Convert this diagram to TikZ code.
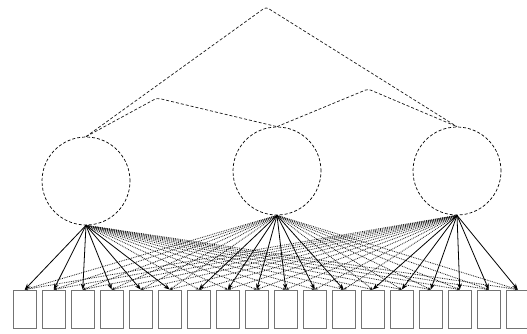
\documentclass[tikz,border=0pt]{standalone}
\usetikzlibrary{arrows.meta}
\begin{document}
\begin{tikzpicture}[x=1pt,y=-1pt,
  latent/.style={circle,draw=black,densely dashed,line width=0.7pt,minimum size=88pt,inner sep=0pt},
  indicator/.style={rectangle,draw=black!55,line width=0.9pt,minimum width=23.5pt,minimum height=38pt,inner sep=0pt,fill=white},
  loading/.style={draw=black,line width=0.8pt,-{Stealth[length=6pt,width=4.5pt]}},
  cross/.style={draw=black!90,densely dotted,line width=0.8pt,-{Stealth[length=3pt,width=2.5pt]}},
  corr/.style={draw=black!90,densely dashed,line width=0.7pt,rounded corners=3pt}]
\useasboundingbox (0,0) rectangle (527,334);
\node[latent] (f1) at (86,181) {};
\node[latent] (f2) at (277,171) {};
\node[latent] (f3) at (457,171) {};
\coordinate (apex) at (266,7);
\coordinate (bendA) at (157,98);
\coordinate (bendB) at (368,89);
\foreach \i in {0,...,17}{
  \node[indicator] (b\i) at ({24.75+29*\i},309) {};
}
% cross loadings (dotted)
\foreach \i in {6,...,17}{ \draw[cross] (f1.south) -- (b\i.north); }
\foreach \i in {0,...,5,12,13,14,15,16,17}{ \draw[cross] (f2.south) -- (b\i.north); }
\foreach \i in {0,...,11}{ \draw[cross] (f3.south) -- (b\i.north); }
% main loadings
\foreach \i in {0,...,5}{ \draw[loading] (f1.south) -- (b\i.north); }
\foreach \i in {6,...,11}{ \draw[loading] (f2.south) -- (b\i.north); }
\foreach \i in {12,...,17}{ \draw[loading] (f3.south) -- (b\i.north); }
% correlations
\draw[corr] (f1.north) -- (apex) -- (f3.north);
\draw[corr] (f1.north) -- (bendA) -- (f2.north);
\draw[corr] (f2.north) -- (bendB) -- (f3.north);
\end{tikzpicture}
\end{document}
